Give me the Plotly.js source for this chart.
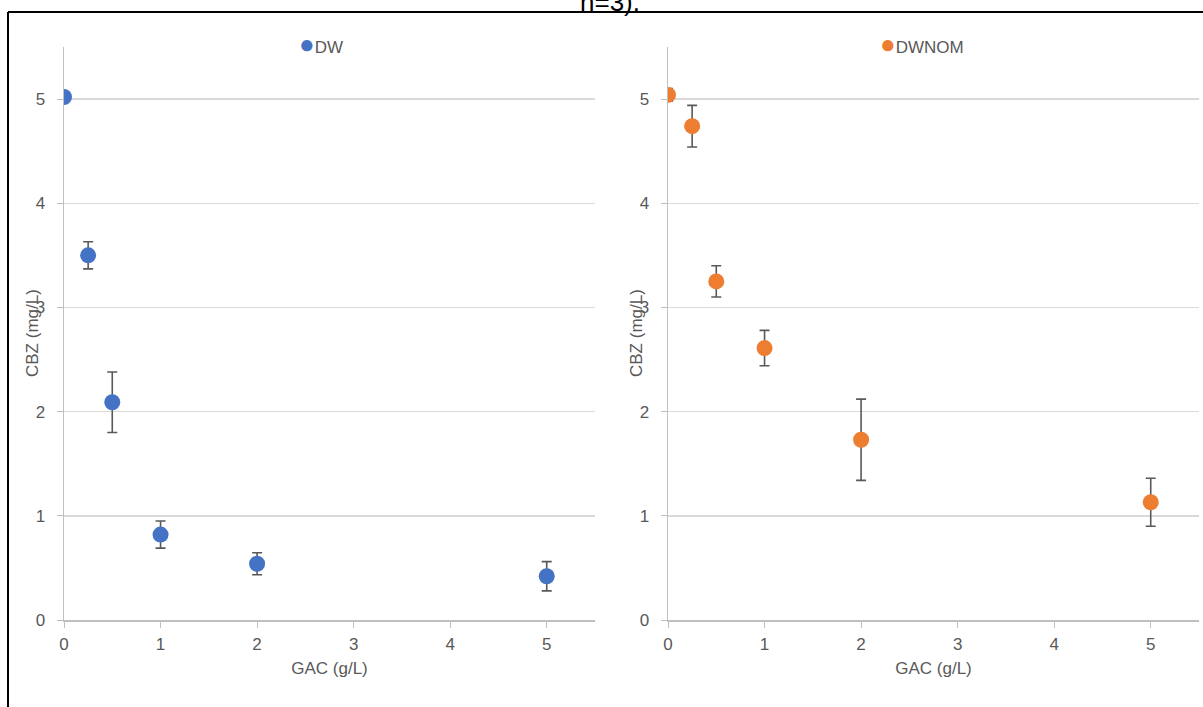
<!DOCTYPE html>
<html><head><meta charset="utf-8">
<script src="https://cdn.plot.ly/plotly-3.0.1.min.js"></script>
<style>html,body{margin:0;padding:0;background:#fff}#chart{width:1203px;height:707px}</style>
</head><body><div id="chart"></div>
<script>
const gac = [0, 0.25, 0.5, 1, 2, 5];
const dwValues = [5.02, 3.50, 2.09, 0.82, 0.54, 0.42];
const dwErrors = [0.0, 0.13, 0.29, 0.13, 0.105, 0.14];
const dwnomValues = [5.04, 4.74, 3.25, 2.61, 1.73, 1.13];
const dwnomErrors = [0.06, 0.20, 0.15, 0.17, 0.39, 0.23];
const xTicks = [0, 1, 2, 3, 4, 5];
const yTicks = [0, 1, 2, 3, 4, 5];
const seriesNames = ['DW', 'DWNOM'];
const seriesColors = ['#4472C4', '#ED7D31'];

const W = 1203, H = 707;
const px = v => v / W;
const py = v => 1 - v / H;
const FONT = 'Liberation Sans, Arial, sans-serif';

const errStyle = {type: 'data', visible: true, color: '#595959', thickness: 1.6, width: 5};

const traces = [
  {x: gac, y: dwValues, type: 'scatter', mode: 'markers', name: seriesNames[0],
   marker: {color: seriesColors[0], size: 16},
   error_y: Object.assign({array: dwErrors}, errStyle),
   xaxis: 'x', yaxis: 'y', showlegend: false},
  {x: gac, y: dwnomValues, type: 'scatter', mode: 'markers', name: seriesNames[1],
   marker: {color: seriesColors[1], size: 16},
   error_y: Object.assign({array: dwnomErrors}, errStyle),
   xaxis: 'x2', yaxis: 'y2', showlegend: false}
];

const tickFont = {family: FONT, size: 17, color: '#595959'};
const titleFont = {family: FONT, size: 17, color: '#595959'};

function xAxis(dom, anchor) {
  return {domain: dom, range: [0, 5.5], tickvals: xTicks, ticktext: xTicks.map(String), anchor: anchor,
    showgrid: false, zeroline: false, showline: true, linecolor: '#bfbfbf', linewidth: 1.5,
    ticks: 'outside', ticklen: 6, tickcolor: '#bfbfbf', tickfont: tickFont, ticklabelstandoff: 2,
    title: {text: 'GAC (g/L)', font: titleFont, standoff: 9}};
}
function yAxis(dom, anchor) {
  return {domain: dom, range: [0, 5.5], tickvals: yTicks, ticktext: yTicks.map(String), anchor: anchor,
    showgrid: true, gridcolor: '#d9d9d9', gridwidth: 1.5, zeroline: false, showline: true,
    linecolor: '#bfbfbf', linewidth: 1.5, ticks: 'outside', ticklen: 6, tickcolor: '#bfbfbf',
    tickfont: tickFont, ticklabelstandoff: 8};
}

function legendText(i) {
  return '<span style="color:' + seriesColors[i] + ';font-size:26px">●</span>' + seriesNames[i];
}

const yDom = [py(620), py(47)];
const layout = {
  width: W, height: H,
  margin: {l: 0, r: 0, t: 0, b: 0},
  paper_bgcolor: '#ffffff', plot_bgcolor: '#ffffff',
  xaxis: xAxis([px(64), px(595)], 'y'),
  yaxis: yAxis(yDom, 'x'),
  xaxis2: xAxis([px(668), px(1199)], 'y2'),
  yaxis2: yAxis(yDom, 'x2'),
  showlegend: false,
  annotations: [
    {text: 'n=3).', xref: 'paper', yref: 'paper', x: px(610), y: py(2), xanchor: 'center', yanchor: 'middle',
     showarrow: false, font: {family: FONT, size: 26, color: '#000000'}},
    {text: legendText(0), xref: 'paper', yref: 'paper', x: px(297), y: py(44), xanchor: 'left', yanchor: 'middle',
     showarrow: false, font: {family: FONT, size: 17, color: '#595959'}},
    {text: legendText(1), xref: 'paper', yref: 'paper', x: px(878), y: py(44), xanchor: 'left', yanchor: 'middle',
     showarrow: false, font: {family: FONT, size: 17, color: '#595959'}},
    {text: 'CBZ (mg/L)', xref: 'paper', yref: 'paper', x: px(33), y: py(333), xanchor: 'center', yanchor: 'middle',
     textangle: -90, showarrow: false, font: titleFont},
    {text: 'CBZ (mg/L)', xref: 'paper', yref: 'paper', x: px(637), y: py(333), xanchor: 'center', yanchor: 'middle',
     textangle: -90, showarrow: false, font: titleFont}
  ],
  shapes: [
    {type: 'line', xref: 'paper', yref: 'paper', x0: px(8), x1: px(8), y0: py(12), y1: 0,
     line: {color: '#000000', width: 2}},
    {type: 'line', xref: 'paper', yref: 'paper', x0: px(8), x1: 1, y0: py(12), y1: py(12),
     line: {color: '#000000', width: 2}}
  ]
};

Plotly.newPlot('chart', traces, layout, {displayModeBar: false, staticPlot: true});
</script>
</body></html>
